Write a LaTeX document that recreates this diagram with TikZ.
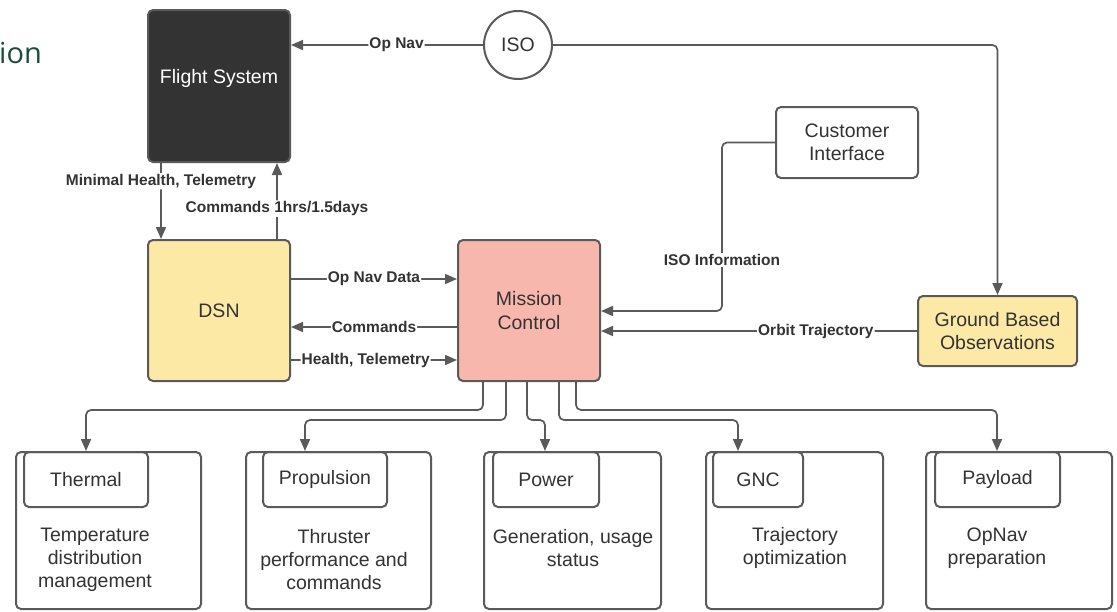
\documentclass[tikz,border=0pt]{standalone}
\usepackage{fontspec}
\setmainfont{Liberation Sans}
\newfontfamily\headfont{Open Sans}
\usetikzlibrary{arrows.meta,calc}
\definecolor{linec}{HTML}{5A5A5A}
\definecolor{txtc}{HTML}{333333}
\definecolor{yel}{HTML}{FDE9A6}
\definecolor{salm}{HTML}{F8B7AD}
\definecolor{dark}{HTML}{333333}
\definecolor{hgreen}{HTML}{1B4D3E}
\tikzset{
  box/.style={draw=linec, line width=2pt, rounded corners=5pt, text=txtc, align=center,
    font=\fontsize{19.5}{23.5}\selectfont, inner sep=0pt},
  conn/.style={draw=linec, line width=1.7pt, rounded corners=5pt, -{Triangle[length=12pt,width=10pt]}},
  lbl/.style={fill=white, text=txtc, inner sep=1pt, font=\bfseries\fontsize{15.5}{17}\selectfont},
  body/.style={text=txtc, align=center, font=\fontsize{19.5}{23}\selectfont, inner sep=0pt}
}
\begin{document}
\begin{tikzpicture}[x=1pt,y=-1pt]
\useasboundingbox (0,0) rectangle (1117,611);
\fill[white] (0,0) rectangle (1117,611);
% partial title
\node[anchor=base west, inner sep=0pt, text=hgreen, font=\headfont\fontsize{29}{34}\selectfont] (title) at (-1,63) {ion};
% main nodes
\node[box, fill=dark, minimum width=142pt, minimum height=152pt] (fs) at (219,86) {};
\node[text=white, font=\fontsize{19.5}{23}\selectfont, inner sep=0pt] (fstxt) at (219,78) {Flight System};
\node[box, circle, rounded corners=0pt, minimum size=68pt] (iso) at (518,45) {ISO};
\node[box, minimum width=142pt, minimum height=71pt] (ci) at (847,142.5) {Customer\\Interface};
\node[box, fill=yel, minimum width=142pt, minimum height=141pt] (dsn) at (219,310.5) {DSN};
\node[box, fill=salm, minimum width=142pt, minimum height=141pt] (mc) at (529,310.5) {Mission\\Control};
\node[box, fill=yel, minimum width=159pt, minimum height=70pt] (gbo) at (997.5,331) {Ground Based\\Observations};
% bottom outer boxes
\node[box, minimum width=185pt, minimum height=157pt] (th) at (108.5,530.5) {};
\node[box, minimum width=185pt, minimum height=157pt] (pr) at (338.5,530.5) {};
\node[box, minimum width=177pt, minimum height=157pt] (pw) at (572.5,530.5) {};
\node[box, minimum width=177pt, minimum height=157pt] (gn) at (794.5,530.5) {};
\node[box, minimum width=186pt, minimum height=157pt] (pl) at (1019,530.5) {};
% headers
\node[box, minimum width=124pt, minimum height=55pt] (thh) at (86,479.5) {Thermal};
\node[box, minimum width=124pt, minimum height=55pt] (prh) at (325,479.5) {Propulsion};
\node[box, minimum width=106pt, minimum height=55pt] (pwh) at (546,479.5) {Power};
\node[box, minimum width=90pt, minimum height=55pt] (gnh) at (758,479.5) {GNC};
\node[box, minimum width=125pt, minimum height=55pt] (plh) at (997.5,479.5) {Payload};
% body texts
\node[body] (thb) at (95,560) {Temperature\\distribution\\management};
\node[body] (prb) at (334,560) {Thruster\\performance and\\commands};
\node[body] (pwb) at (573,548) {Generation, usage\\status};
\node[body] (gnb) at (795,548) {Trajectory\\optimization};
\node[body] (plb) at (997,548) {OpNav\\preparation};
% connectors top
\draw[conn] (iso.west) -- node[lbl, pos=0.45] {Op Nav} (iso.west -| fs.east);
\draw[conn] (iso.east) -| (gbo.north);
\coordinate (cib) at (722,311);
\draw[conn] (ci.west) -| (cib) -- (cib -| mc.east);
\node[lbl] (isoinfo) at (722,260) {ISO Information};
\draw[conn] (gbo.west) -- node[lbl, pos=0.32] {Orbit Trajectory} (gbo.west -| mc.east);
\draw[conn] ($(fs.south west)+(14,0)$) -- node[lbl, pos=0.24] {Minimal Health, Telemetry} ($(dsn.north west)+(14,0)$);
\draw[conn] ($(dsn.north west)+(130,0)$) -- node[lbl, pos=0.4] {Commands 1hrs/1.5days} ($(fs.south west)+(130,0)$);
\draw[conn] ($(dsn.north east)+(0,40)$) -- node[lbl] {Op Nav Data} ($(mc.north west)+(0,40)$);
\draw[conn] ($(mc.north west)+(0,88)$) -- node[lbl] {Commands} ($(dsn.north east)+(0,88)$);
\draw[conn] ($(dsn.north east)+(0,121)$) -- node[lbl, pos=0.45] {Health, Telemetry} ($(mc.north west)+(0,121)$);
% connectors bottom
\coordinate (m1) at ($(mc.south west)+(26,0)$);
\coordinate (m2) at ($(mc.south west)+(49,0)$);
\coordinate (m3) at ($(mc.south west)+(70,0)$);
\coordinate (m4) at ($(mc.south west)+(102,0)$);
\coordinate (m5) at ($(mc.south west)+(119,0)$);
\draw[conn] (m1) -- (m1 |- 0,410) -| ($(th.north west)+(71,0)$);
\draw[conn] (m2) -- (m2 |- 0,420) -| ($(pr.north west)+(60,0)$);
\draw[conn] (m3) -- (m3 |- 0,420) -| ($(pw.north west)+(62,0)$);
\draw[conn] (m4) -- (m4 |- 0,420) -| ($(gn.north west)+(33,0)$);
\draw[conn] (m5) -- (m5 |- 0,410) -| ($(pl.north west)+(72,0)$);
\end{tikzpicture}
\end{document}
